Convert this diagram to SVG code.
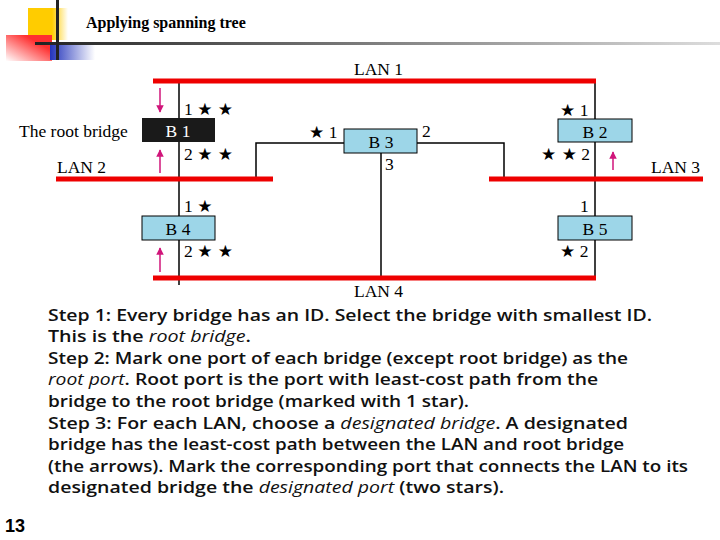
<svg xmlns="http://www.w3.org/2000/svg" width="720" height="540" viewBox="0 0 720 540">
<defs>
<linearGradient id="hl" x1="0" x2="1"><stop offset="0" stop-color="#222"/><stop offset="1" stop-color="#ddd"/></linearGradient>
<linearGradient id="yg" x1="0" x2="1"><stop offset="0.6" stop-color="#ffcc00"/><stop offset="1" stop-color="#fff"/></linearGradient>
<linearGradient id="rg" x1="1" x2="0" y1="0" y2="1"><stop offset="0.3" stop-color="#ff3030"/><stop offset="1" stop-color="#fff"/></linearGradient>
<linearGradient id="bg" x1="0" x2="1"><stop offset="0" stop-color="#2233bb"/><stop offset="1" stop-color="#fff"/></linearGradient>
<marker id="ah" viewBox="0 0 10 10" refX="9" refY="5" markerWidth="5" markerHeight="5" orient="auto"><path d="M0,0 L10,5 L0,10 z" fill="#d0157a"/></marker>
<style>
.lan{stroke:#ee0000;stroke-width:5}
.w{stroke:#000;stroke-width:1.5;fill:none}
.br{fill:#9dd6e8;stroke:#000;stroke-width:1}
.t{font-family:"Liberation Serif",serif;font-size:17.5px;fill:#000}
.s{font-family:"DejaVu Sans",sans-serif;font-size:17px}
.arr{stroke:#d0157a;stroke-width:1.5;marker-end:url(#ah)}
.p{font-family:"Open Sans","DejaVu Sans",sans-serif;font-size:16px;font-weight:600;fill:#111}
.i{font-style:italic;font-weight:normal}
</style>
</defs>
<g id="header">
<rect x="28" y="8" width="40" height="32" fill="url(#yg)"/>
<rect x="6" y="35" width="46" height="26" fill="url(#rg)"/>
<rect x="50" y="42" width="45" height="18" fill="url(#bg)"/>
<rect x="35" y="42" width="685" height="3" fill="url(#hl)"/>
<rect x="56" y="0" width="3" height="60" fill="#222"/>
<text x="86" y="28" font-family="Liberation Serif,serif" font-weight="bold" font-size="16">Applying spanning tree</text>
</g>
<g id="connectors">
<line class="w" x1="179" y1="81" x2="179" y2="285"/>
<polyline class="w" points="344,143 256,143 256,179"/>
<polyline class="w" points="417,143 504,143 504,179"/>
<line class="w" x1="381" y1="153" x2="381" y2="278"/>
<line class="w" x1="595" y1="81" x2="595" y2="278"/>
<line class="arr" x1="160" y1="88" x2="160" y2="112"/>
<line class="arr" x1="160" y1="173" x2="160" y2="150"/>
<line class="arr" x1="613" y1="170" x2="613" y2="152"/>
<line class="arr" x1="160" y1="272" x2="160" y2="248"/>
</g>
<g id="lan1"><line class="lan" x1="153" y1="81" x2="596" y2="81"/><text class="t" x="354" y="75">LAN 1</text></g>
<g id="lan2"><line class="lan" x1="56" y1="179" x2="273" y2="179"/><text class="t" x="57" y="173">LAN 2</text></g>
<g id="lan3"><line class="lan" x1="489" y1="179" x2="703" y2="179"/><text class="t" x="651" y="173">LAN 3</text></g>
<g id="lan4"><line class="lan" x1="153" y1="278" x2="596" y2="278"/><text class="t" x="354" y="297">LAN 4</text></g>
<g id="b1">
<rect x="142" y="118" width="73" height="24" fill="#1a1a1a"/>
<text class="t" x="178" y="137" style="fill:#fff" text-anchor="middle">B 1</text>
<text class="t" x="19" y="137">The root bridge</text>
<text class="t" x="184" y="115">1 <tspan class="s">★ ★</tspan></text>
<text class="t" x="184" y="160">2 <tspan class="s">★ ★</tspan></text>
</g>
<g id="b3">
<rect class="br" x="344" y="129" width="73" height="24"/>
<text class="t" x="381" y="148" text-anchor="middle">B 3</text>
<text class="t" x="309" y="138"><tspan class="s">★</tspan> 1</text>
<text class="t" x="422" y="137">2</text>
<text class="t" x="385" y="170">3</text>
</g>
<g id="b2">
<rect class="br" x="558" y="119" width="74" height="23"/>
<text class="t" x="595" y="138" text-anchor="middle">B 2</text>
<text class="t" x="560" y="116"><tspan class="s">★</tspan> 1</text>
<text class="t" x="541" y="160"><tspan class="s">★ ★</tspan> 2</text>
</g>
<g id="b4">
<rect class="br" x="142" y="216" width="73" height="24"/>
<text class="t" x="178" y="235" text-anchor="middle">B 4</text>
<text class="t" x="184" y="212">1 <tspan class="s">★</tspan></text>
<text class="t" x="184" y="257">2 <tspan class="s">★ ★</tspan></text>
</g>
<g id="b5">
<rect class="br" x="558" y="216" width="74" height="24"/>
<text class="t" x="595" y="235" text-anchor="middle">B 5</text>
<text class="t" x="580" y="212">1</text>
<text class="t" x="560" y="257"><tspan class="s">★</tspan> 2</text>
</g>
<g id="notes">
<text class="p" x="48" y="321" textLength="604" lengthAdjust="spacingAndGlyphs">Step 1: Every bridge has an ID.  Select the bridge with smallest ID.</text>
<text class="p" x="48" y="342" textLength="203" lengthAdjust="spacingAndGlyphs">This is the <tspan class="i">root bridge</tspan>.</text>
<text class="p" x="48" y="364" textLength="580" lengthAdjust="spacingAndGlyphs">Step 2: Mark one port of each bridge (except root bridge) as the</text>
<text class="p" x="48" y="385" textLength="550" lengthAdjust="spacingAndGlyphs"><tspan class="i">root port</tspan>.  Root port is the port with least-cost path from the</text>
<text class="p" x="48" y="407" textLength="421" lengthAdjust="spacingAndGlyphs">bridge to the root bridge (marked with 1 star).</text>
<text class="p" x="48" y="429" textLength="580" lengthAdjust="spacingAndGlyphs">Step 3: For each LAN, choose a <tspan class="i">designated bridge</tspan>.  A designated</text>
<text class="p" x="48" y="450" textLength="576" lengthAdjust="spacingAndGlyphs">bridge has the least-cost path between the LAN and root bridge</text>
<text class="p" x="48" y="472" textLength="640" lengthAdjust="spacingAndGlyphs">(the arrows). Mark the corresponding port that connects the LAN to its</text>
<text class="p" x="48" y="493" textLength="456" lengthAdjust="spacingAndGlyphs">designated bridge the <tspan class="i">designated port</tspan> (two stars).</text>
<text x="5" y="532" font-family="Liberation Sans,sans-serif" font-weight="bold" font-size="18">13</text>
</g>
</svg>
